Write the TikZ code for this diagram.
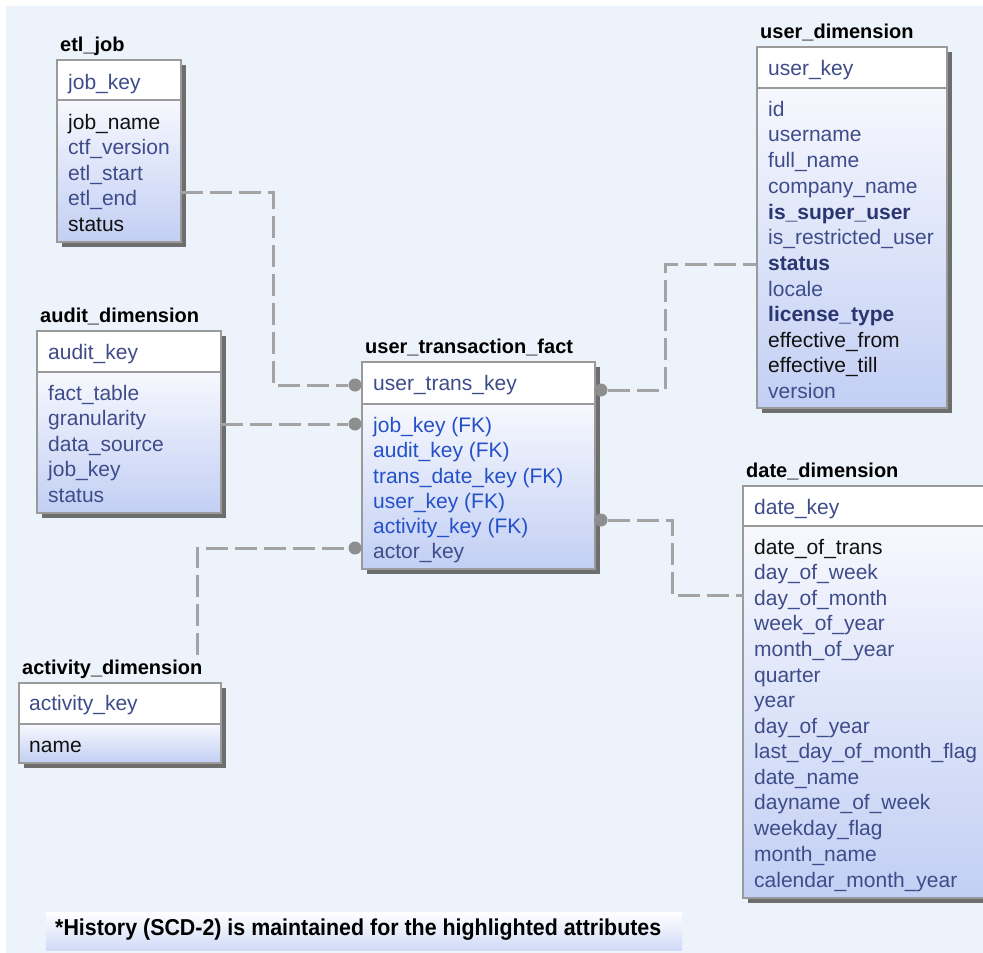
\documentclass[tikz,border=0pt]{standalone}
\usepackage{fontspec}
\setmainfont{Liberation Sans}
\usepackage{graphicx}
\definecolor{bgc}{HTML}{EDF3FA}
\definecolor{keyc}{HTML}{3E4C8A}
\definecolor{fkc}{HTML}{2450C8}
\definecolor{bdc}{HTML}{2A3670}
\definecolor{blk}{HTML}{111111}
\definecolor{boxline}{HTML}{9A9A9A}
\definecolor{boxbot}{HTML}{C2CFF4}
\definecolor{bodytop}{HTML}{F7F8FE}
\definecolor{shadowc}{HTML}{6E6E6E}
\definecolor{conncol}{HTML}{A3A3A3}
\definecolor{dotcol}{HTML}{8E8E8E}
\definecolor{footbot}{HTML}{CFDAF7}
\tikzset{
  hdr/.style={draw=boxline, line width=1.2pt, fill=white, inner sep=0pt, outer sep=0pt},
  bodyb/.style={draw=boxline, line width=1.2pt, top color=bodytop, bottom color=boxbot, inner sep=0pt, outer sep=0pt},
  ttl/.style={font=\fontsize{20}{24}\selectfont\bfseries, text=black, inner sep=0pt},
  rowt/.style={font=\fontsize{21}{24}\selectfont, inner sep=0pt},
  kc/.style={text=keyc},
  fk/.style={text=fkc},
  bk/.style={text=blk},
  bd/.style={text=bdc, font=\fontsize{21}{24}\selectfont\bfseries},
  conn/.style={draw=conncol, line width=3pt, dash pattern=on 22pt off 7pt},
  enddot/.style={circle, fill=dotcol, minimum size=13pt, inner sep=0pt},
}
% #1 id, #2 left, #3 top, #4 right, #5 divider, #6 bottom, #7 title
\newcommand{\enttable}[7]{%
  \fill[shadowc] (#2+5,#3+5) rectangle (#4+5,#6+5);
  \node[hdr, minimum width=#4-#2, minimum height=#5-#3, anchor=north west] (#1H) at (#2,#3) {};
  \node[bodyb, minimum width=#4-#2, minimum height=#6-#5, anchor=north west] (#1B) at (#2,#5) {};
  \node[ttl, anchor=base west] (#1T) at (#2+3,#3-9) {#7};
}
% #1 name, #2 x, #3 y centre, #4 style, #5 text
\newcommand{\erow}[5]{\node[rowt, #4, anchor=base west] (#1) at (#2,#3+7) {#5};}
\begin{document}
\begin{tikzpicture}[x=1pt,y=-1pt]
\useasboundingbox (0,0) rectangle (983,953);
\fill[white] (-5,-5) rectangle (990,960);
\fill[bgc] (6,6) rectangle (990,960);

% etl_job
\enttable{etl}{57}{60}{181}{100}{242}{etl\_job}
\erow{e1}{68}{82}{kc}{job\_key}
\erow{e2}{68}{122}{bk}{job\_name}
\erow{e3}{68}{147}{kc}{ctf\_version}
\erow{e4}{68}{173}{kc}{etl\_start}
\erow{e5}{68}{198}{kc}{etl\_end}
\erow{e6}{68}{224}{bk}{status}

% user_dimension
\enttable{usr}{757}{47}{947}{88}{408}{user\_dimension}
\erow{u0}{768}{68}{kc}{user\_key}
\erow{u1}{768}{109}{kc}{id}
\erow{u2}{768}{134}{kc}{username}
\erow{u3}{768}{160}{kc}{full\_name}
\erow{u4}{768}{186}{kc}{company\_name}
\erow{u5}{768}{212}{bd}{is\_super\_user}
\erow{u6}{768}{237}{kc}{is\_restricted\_user}
\erow{u7}{768}{263}{bd}{status}
\erow{u8}{768}{289}{kc}{locale}
\erow{u9}{768}{314}{bd}{license\_type}
\erow{u10}{768}{340}{bk}{effective\_from}
\erow{u11}{768}{365}{bk}{effective\_till}
\erow{u12}{768}{391}{kc}{version}

% audit_dimension
\enttable{aud}{37}{331}{221}{372}{513}{audit\_dimension}
\erow{a0}{48}{352}{kc}{audit\_key}
\erow{a1}{48}{393}{kc}{fact\_table}
\erow{a2}{48}{418}{kc}{granularity}
\erow{a3}{48}{444}{kc}{data\_source}
\erow{a4}{48}{469}{kc}{job\_key}
\erow{a5}{48}{495}{kc}{status}

% user_transaction_fact
\enttable{fct}{362}{362}{595}{404}{569}{user\_transaction\_fact}
\erow{f0}{373}{383}{kc}{user\_trans\_key}
\erow{f1}{373}{425}{fk}{job\_key (FK)}
\erow{f2}{373}{450}{fk}{audit\_key (FK)}
\erow{f3}{373}{476}{fk}{trans\_date\_key (FK)}
\erow{f4}{373}{501}{fk}{user\_key (FK)}
\erow{f5}{373}{526}{fk}{activity\_key (FK)}
\erow{f6}{373}{551}{kc}{actor\_key}

% date_dimension
\enttable{dat}{743}{486}{990}{526}{898}{date\_dimension}
\erow{t0}{754}{507}{kc}{date\_key}
\erow{t1}{754}{547}{bk}{date\_of\_trans}
\erow{t2}{754}{572}{kc}{day\_of\_week}
\erow{t3}{754}{598}{kc}{day\_of\_month}
\erow{t4}{754}{623}{kc}{week\_of\_year}
\erow{t5}{754}{649}{kc}{month\_of\_year}
\erow{t6}{754}{675}{kc}{quarter}
\erow{t7}{754}{700}{kc}{year}
\erow{t8}{754}{726}{kc}{day\_of\_year}
\erow{t9}{754}{751}{kc}{last\_day\_of\_month\_flag}
\erow{t10}{754}{777}{kc}{date\_name}
\erow{t11}{754}{802}{kc}{dayname\_of\_week}
\erow{t12}{754}{828}{kc}{weekday\_flag}
\erow{t13}{754}{854}{kc}{month\_name}
\erow{t14}{754}{880}{kc}{calendar\_month\_year}

% activity_dimension
\enttable{act}{19}{683}{221}{724}{763}{activity\_dimension}
\erow{c0}{29}{703}{kc}{activity\_key}
\erow{c1}{29}{745}{bk}{name}

% footer
\node[top color=white, bottom color=footbot, minimum width=636pt, minimum height=38pt, inner sep=0pt, anchor=north west] (foot) at (46,912) {};
\node[anchor=west, inner sep=0pt, font=\fontsize{23}{26}\selectfont\bfseries, text=black] (foottext) at (55,930) {\scalebox{0.93}[1]{*History (SCD-2) is maintained for the highlighted attributes}};

% connector end dots
\node[enddot] (d1) at (355,385) {};
\node[enddot] (d2) at (355,424) {};
\node[enddot] (d3) at (355,548) {};
\node[enddot] (d4) at (601,390) {};
\node[enddot] (d5) at (601,520) {};
\coordinate (a3end) at (197,655);

% connectors
\draw[conn] (etlB.east |- 0,192) -| (273,385) -- (d1);
\draw[conn] (audB.east |- 0,424) -- (d2);
\draw[conn] (a3end) |- (d3);
\draw[conn] (d4) -| (665,264) -- (usrB.west |- 0,264);
\draw[conn] (d5) -| (672,595) -- (datB.west |- 0,595);
\end{tikzpicture}
\end{document}
